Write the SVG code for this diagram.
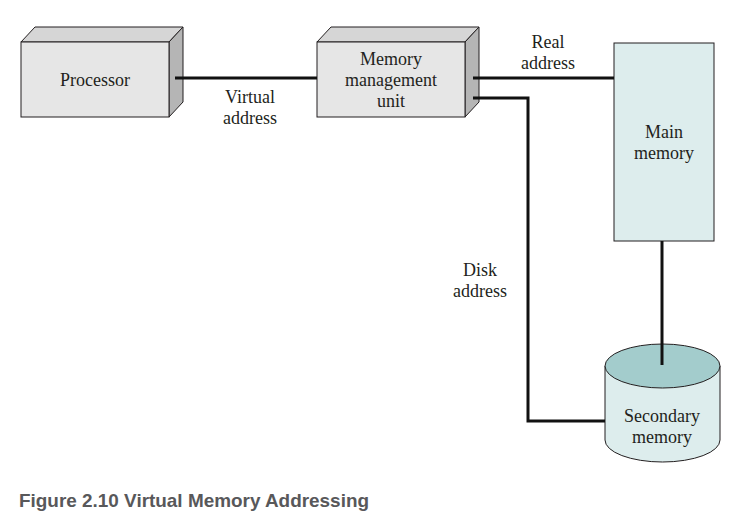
<svg xmlns="http://www.w3.org/2000/svg" width="747" height="530" viewBox="0 0 747 530">
<style>
.lbl{font-family:"Liberation Serif","Times New Roman",serif;font-size:18px;fill:#231f20;text-anchor:middle}
.front{fill:#e6e6e6;stroke:#231f20;stroke-width:1}
.top{fill:#d6d6d6;stroke:#231f20;stroke-width:1}
.side{fill:#b5b5b5;stroke:#231f20;stroke-width:1}
.wire{fill:none;stroke:#111;stroke-width:3}
.mem{fill:#ddeded;stroke:#231f20;stroke-width:1}
.cap{font-family:"Liberation Sans",Arial,sans-serif;font-size:19px;font-weight:bold;fill:#58585a}
</style>
<rect width="747" height="530" fill="#fff"/>
<g id="processor">
<polygon class="top" points="21,42 35,27 183,27 169,42"/>
<polygon class="side" points="169,42 183,27 183,102 169,117"/>
<rect class="front" x="21" y="42" width="148" height="75"/>
<text class="lbl" x="95" y="86">Processor</text>
</g>
<g id="mmu">
<polygon class="top" points="317,42 331,27 479,27 465,42"/>
<polygon class="side" points="465,42 479,27 479,102 465,117"/>
<rect class="front" x="317" y="42" width="148" height="75"/>
<text class="lbl" x="391" y="65">Memory</text>
<text class="lbl" x="391" y="86">management</text>
<text class="lbl" x="391" y="107">unit</text>
</g>
<g id="main-memory">
<rect class="mem" x="614" y="43" width="100" height="198"/>
<text class="lbl" x="664" y="138">Main</text>
<text class="lbl" x="664" y="159">memory</text>
</g>
<g id="secondary-memory">
<path class="mem" d="M605,366 L605,440 A57.5,22 0 0 0 720,440 L720,366"/>
<ellipse cx="662.5" cy="366" rx="57.5" ry="22" fill="#a3cccc" stroke="#231f20" stroke-width="1"/>
<text class="lbl" x="662" y="422">Secondary</text>
<text class="lbl" x="662" y="443">memory</text>
</g>
<g id="connectors">
<line class="wire" x1="175" y1="78" x2="317" y2="78"/>
<line class="wire" x1="473" y1="78" x2="614" y2="78"/>
<polyline class="wire" points="473,98 528,98 528,421 605,421"/>
<line class="wire" x1="662" y1="241" x2="662" y2="365"/>
<text class="lbl" x="250" y="103">Virtual</text>
<text class="lbl" x="250" y="124">address</text>
<text class="lbl" x="548" y="48">Real</text>
<text class="lbl" x="548" y="69">address</text>
<text class="lbl" x="480" y="276">Disk</text>
<text class="lbl" x="480" y="297">address</text>
</g>
<text class="cap" x="19" y="507" textLength="350" lengthAdjust="spacingAndGlyphs">Figure 2.10 Virtual Memory Addressing</text>
</svg>
